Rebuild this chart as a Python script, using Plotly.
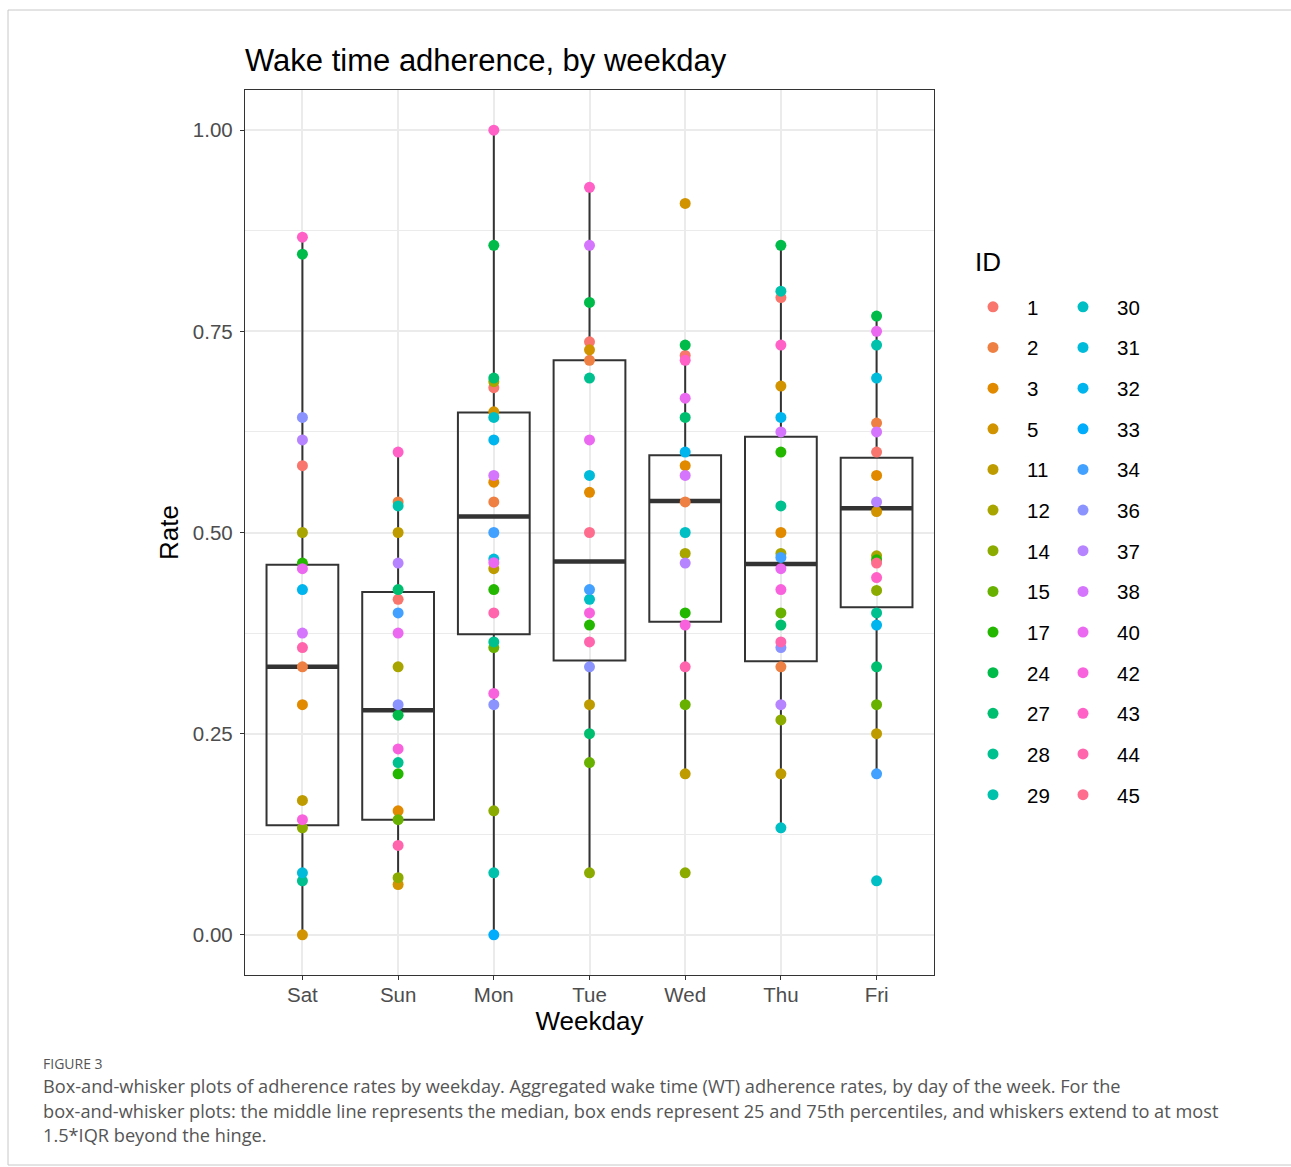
import math
import plotly.graph_objects as go

# ---------------- data ----------------
days = ["Sat", "Sun", "Mon", "Tue", "Wed", "Thu", "Fri"]
id_levels = [1, 2, 3, 5, 11, 12, 14, 15, 17, 24, 27, 28, 29,
             30, 31, 32, 33, 34, 36, 37, 38, 40, 42, 43, 44, 45]

sat_ids = [43, 24, 36, 37, 1, 12, 17, 40, 32, 38, 44, 2, 3, 11, 42, 14, 31, 28, 5]
sat_vals = [0.867, 0.846, 0.643, 0.615, 0.583, 0.5, 0.462, 0.455, 0.429, 0.375,
            0.357, 0.333, 0.286, 0.167, 0.143, 0.133, 0.077, 0.067, 0.0]

sun_ids = [43, 2, 29, 11, 37, 27, 1, 34, 40, 12, 36, 24, 42, 28, 17, 3, 15, 44, 14, 5]
sun_vals = [0.6, 0.538, 0.533, 0.5, 0.462, 0.429, 0.417, 0.4, 0.375, 0.333,
            0.286, 0.273, 0.231, 0.214, 0.2, 0.154, 0.143, 0.111, 0.071, 0.0625]

mon_ids = [43, 24, 27, 12, 1, 5, 30, 32, 38, 3, 2, 34, 31, 40, 11, 17, 44, 28,
           15, 42, 36, 14, 29, 33]
mon_vals = [1.0, 0.857, 0.692, 0.6875, 0.68, 0.65, 0.643, 0.615, 0.571, 0.5625,
            0.538, 0.5, 0.467, 0.4625, 0.455, 0.429, 0.4, 0.364, 0.357, 0.3,
            0.286, 0.154, 0.077, 0.0]

tue_ids = [43, 38, 24, 1, 5, 2, 28, 40, 31, 3, 45, 34, 30, 42, 17, 44, 36, 11,
           27, 15, 14]
tue_vals = [0.929, 0.857, 0.786, 0.737, 0.727, 0.714, 0.692, 0.615, 0.571, 0.55,
            0.5, 0.429, 0.417, 0.4, 0.385, 0.364, 0.333, 0.286, 0.25, 0.214, 0.077]

wed_ids = [5, 24, 1, 43, 40, 27, 32, 3, 38, 2, 30, 12, 37, 17, 42, 44, 15, 11, 14]
wed_vals = [0.909, 0.733, 0.72, 0.714, 0.667, 0.643, 0.6, 0.583, 0.571, 0.538,
            0.5, 0.474, 0.462, 0.4, 0.385, 0.333, 0.286, 0.2, 0.077]

thu_ids = [24, 29, 1, 43, 5, 32, 38, 17, 28, 3, 12, 34, 40, 42, 15, 27, 44, 36,
           2, 37, 14, 11, 30]
thu_vals = [0.857, 0.8, 0.792, 0.733, 0.682, 0.643, 0.625, 0.6, 0.533, 0.5,
            0.474, 0.469, 0.455, 0.429, 0.4, 0.385, 0.364, 0.357, 0.333, 0.286,
            0.267, 0.2, 0.133]

fri_ids = [24, 40, 29, 31, 2, 38, 1, 3, 37, 5, 12, 17, 45, 43, 14, 28, 32, 27,
           15, 11, 34, 30]
fri_vals = [0.769, 0.75, 0.733, 0.692, 0.636, 0.625, 0.6, 0.571, 0.538, 0.526,
            0.471, 0.466, 0.462, 0.444, 0.428, 0.4, 0.385, 0.333, 0.286, 0.25,
            0.2, 0.067]

# box statistics (Sat..Fri)
box_q1 = [0.136, 0.143, 0.3735, 0.341, 0.389, 0.34, 0.407]
box_median = [0.333, 0.279, 0.52, 0.464, 0.539, 0.461, 0.53]
box_q3 = [0.46, 0.426, 0.649, 0.714, 0.596, 0.619, 0.593]
box_lower = [0.0, 0.0625, 0.0, 0.077, 0.2, 0.133, 0.2]
box_upper = [0.867, 0.6, 1.0, 0.929, 0.733, 0.857, 0.769]

day_ids = [sat_ids, sun_ids, mon_ids, tue_ids, wed_ids, thu_ids, fri_ids]
day_vals = [sat_vals, sun_vals, mon_vals, tue_vals, wed_vals, thu_vals, fri_vals]


# ---------------- ggplot2 hue palette (hcl, l=65, c=100) ----------------
def hcl_hex(h, c=100.0, l=65.0):
    WX, WY, WZ = 95.047, 100.000, 108.883
    wu = 4 * WX / (WX + 15 * WY + 3 * WZ)
    wv = 9 * WY / (WX + 15 * WY + 3 * WZ)
    hr = math.radians(h)
    U, V = c * math.cos(hr), c * math.sin(hr)
    Y = WY * (((l + 16) / 116) ** 3 if l > 7.999592 else l / 903.3)
    u = U / (13 * l) + wu
    v = V / (13 * l) + wv
    X = 9.0 * Y * u / (4 * v)
    Z = -X / 3 - 5 * Y + 3 * Y / v

    def g(t):
        return 1.055 * t ** (1 / 2.4) - 0.055 if t > 0.00304 else 12.92 * t

    r = g((3.240479 * X - 1.537150 * Y - 0.498535 * Z) / WY)
    gg = g((-0.969256 * X + 1.875992 * Y + 0.041556 * Z) / WY)
    b = g((0.055648 * X - 0.204043 * Y + 1.057311 * Z) / WY)
    vals = [max(0, min(1, x)) for x in (r, gg, b)]
    return "#%02X%02X%02X" % tuple(int(round(x * 255)) for x in vals)


n = len(id_levels)
palette = {pid: hcl_hex((15 + 360 * i / n) % 360) for i, pid in enumerate(id_levels)}

# ---------------- figure ----------------
W, H = 1291, 1167
ML, MR, MT, MB = 245, 357, 90, 192
PW, PH = W - ML - MR, H - MT - MB


def px_x(p):
    return (p - ML) / PW


def px_y(p):
    return (H - MB - p) / PH


positions = list(range(len(days)))
fig = go.Figure()

fig.add_trace(go.Box(
    x=positions, q1=box_q1, median=box_median, q3=box_q3,
    lowerfence=box_lower, upperfence=box_upper,
    width=0.75, whiskerwidth=0, boxpoints=False,
    fillcolor="rgba(0,0,0,0)", line=dict(color="#333333", width=2),
    showlegend=False, hoverinfo="skip"))

# thick median bars
mx, my = [], []
for p, m in zip(positions, box_median):
    mx += [p - 0.375, p + 0.375, None]
    my += [m, m, None]
fig.add_trace(go.Scatter(x=mx, y=my, mode="lines",
                         line=dict(color="#333333", width=4.5),
                         showlegend=False, hoverinfo="skip"))

half = 13
for k, pid in enumerate(id_levels):
    xs, ys = [], []
    for p, ids, vals in zip(positions, day_ids, day_vals):
        for i_, v in zip(ids, vals):
            if i_ == pid:
                xs.append(p)
                ys.append(v)
    fig.add_trace(go.Scatter(
        x=xs, y=ys, mode="markers", name=str(pid),
        legendgroup=str(pid),
        legend="legend" if k < half else "legend2",
        marker=dict(color=palette[pid], size=11, line=dict(width=0))))

font_family = "Liberation Sans, Arial, Helvetica, sans-serif"
legend_common = dict(
    xanchor="left", yanchor="top", bgcolor="rgba(0,0,0,0)",
    font=dict(size=20.5, color="#000000", family=font_family),
    itemwidth=58, tracegroupgap=11, traceorder="grouped",
    itemclick=False, itemdoubleclick=False)

fig.update_layout(
    width=W, height=H,
    margin=dict(l=ML, r=MR, t=MT, b=MB, autoexpand=False),
    paper_bgcolor="white", plot_bgcolor="white",
    font=dict(family=font_family, color="#000000"),
    title=dict(text="Wake time adherence, by weekday", x=0, xref="paper",
               xanchor="left", y=1 - 60 / H, yref="container", yanchor="middle",
               font=dict(size=31, color="#000000")),
    xaxis=dict(range=[-0.6, 6.6], tickvals=positions, ticktext=days,
               showgrid=True, gridcolor="#EBEBEB", gridwidth=1.5,
               zeroline=False, showline=True, mirror=True,
               linecolor="#333333", linewidth=1.3,
               ticks="outside", ticklen=4, tickcolor="#333333", tickwidth=1.3,
               ticklabelstandoff=-3,
               tickfont=dict(size=20.5, color="#4D4D4D"),
               title=dict(text="Weekday", font=dict(size=26, color="#000000"),
                          standoff=6)),
    yaxis=dict(range=[-0.05, 1.05], tickvals=[0, 0.25, 0.5, 0.75, 1.0],
               tickformat=".2f",
               showgrid=True, gridcolor="#EBEBEB", gridwidth=1.5,
               minor=dict(tickvals=[0.125, 0.375, 0.625, 0.875], showgrid=True,
                          gridcolor="#EBEBEB", gridwidth=1, ticks=""),
               zeroline=False, showline=True, mirror=True,
               linecolor="#333333", linewidth=1.3,
               ticks="outside", ticklen=4, tickcolor="#333333", tickwidth=1.3,
               ticklabelstandoff=3,
               tickfont=dict(size=20.5, color="#4D4D4D"),
               title=dict(text="Rate", font=dict(size=26, color="#000000"),
                          standoff=6)),
    legend=dict(x=px_x(959), y=px_y(287), **legend_common),
    legend2=dict(x=px_x(1049), y=px_y(287), **legend_common),
)

# legend title "ID"
fig.add_annotation(text="ID", xref="paper", yref="paper", x=px_x(973), y=px_y(262),
                   xanchor="left", yanchor="middle", showarrow=False,
                   font=dict(size=26, color="#000000", family=font_family))

# outer figure frame
fig.add_shape(type="rect", xref="paper", yref="paper",
              x0=px_x(8), x1=px_x(1300), y0=px_y(1165), y1=px_y(10),
              line=dict(color="#C8C8C8", width=1), fillcolor="rgba(0,0,0,0)",
              layer="below")

# caption
cap_font = "Open Sans, Noto Sans, sans-serif"
fig.add_annotation(text="FIGURE 3", xref="paper", yref="paper",
                   x=px_x(41), y=px_y(1063), xanchor="left", yanchor="middle",
                   showarrow=False,
                   font=dict(size=14, color="#555555", family=cap_font))
caption_lines = [
    "Box-and-whisker plots of adherence rates by weekday. Aggregated wake time (WT) adherence rates, by day of the week. For the",
    "box-and-whisker plots: the middle line represents the median, box ends represent 25 and 75th percentiles, and whiskers extend to at most",
    "1.5*IQR beyond the hinge.",
]
for i, line in enumerate(caption_lines):
    fig.add_annotation(text=line, xref="paper", yref="paper",
                       x=px_x(41), y=px_y(1086 + 24.5 * i), xanchor="left",
                       yanchor="middle", showarrow=False,
                       font=dict(size=18.2, color="#555555", family=cap_font))

fig.write_html("out.html")
